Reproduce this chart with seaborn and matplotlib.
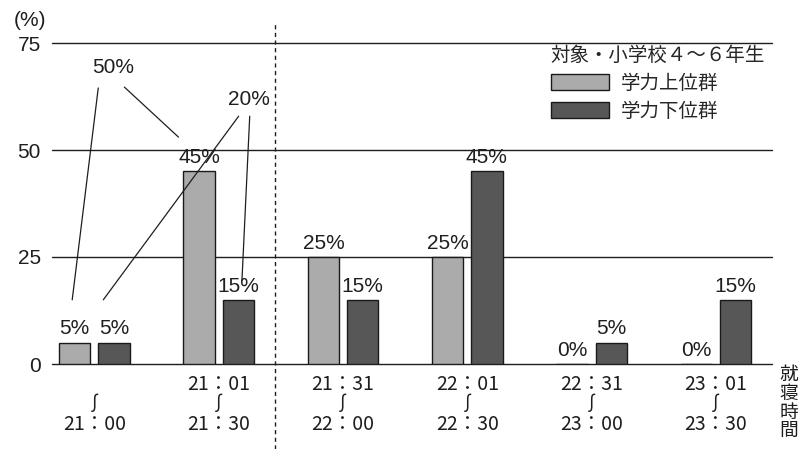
import matplotlib
matplotlib.use("Agg")
import matplotlib.pyplot as plt
import pandas as pd
import seaborn as sns

# bedtime ranges (x categories)
time_labels = [
    "\n∫\n21：00",
    "21：01\n∫\n21：30",
    "21：31\n∫\n22：00",
    "22：01\n∫\n22：30",
    "22：31\n∫\n23：00",
    "23：01\n∫\n23：30",
]
groups = ["学力上位群", "学力下位群"]
upper_pct = [5, 45, 25, 25, 0, 0]
lower_pct = [5, 15, 15, 45, 5, 15]
y_ticks = [0, 25, 50, 75]
legend_title = "対象・小学校４～６年生"
x_title = "就\n寝\n時\n間"
y_unit = "(%)"

sns.set_theme(style="white")
plt.rcParams["font.family"] = ["Noto Sans CJK JP", "DejaVu Sans"]
NUM_FONT = ["Liberation Sans", "DejaVu Sans"]

df = pd.DataFrame({
    "time": time_labels * 2,
    "group": [groups[0]] * len(time_labels) + [groups[1]] * len(time_labels),
    "pct": upper_pct + lower_pct,
})

fig = plt.figure(figsize=(8.08, 4.49), dpi=100)
ax = fig.add_axes([52 / 808, 85 / 449, 720 / 808, 321 / 449])

for v in y_ticks:
    ax.axhline(v, color="#1e1e1e", lw=1.0, zorder=0, clip_on=False)

BAR_WIDTH = 0.63
sns.barplot(
    data=df, x="time", y="pct", hue="group",
    order=time_labels, hue_order=groups,
    palette=["#ababab", "#575757"],
    width=BAR_WIDTH, gap=0.2,
    edgecolor="#1a1a1a", linewidth=1.0,
    ax=ax, zorder=2,
)

ax.set_xlim(-0.34, 5.45)
ax.set_ylim(0, 75)
for s in ax.spines.values():
    s.set_visible(False)
ax.set_xlabel("")
ax.set_ylabel("")
ax.set_yticks(y_ticks)
ax.set_yticklabels([str(v) for v in y_ticks], family=NUM_FONT, fontsize=15)
ax.tick_params(axis="y", length=0, pad=8, colors="#1e1e1e")
ax.tick_params(axis="x", length=0, pad=7, colors="#1e1e1e")
for lab in ax.get_xticklabels():
    lab.set_fontsize(14)
    lab.set_linespacing(0.95)

# value labels above every bar
for cont, vals in zip(ax.containers, [upper_pct, lower_pct]):
    ax.bar_label(cont, labels=[f"{v}%" for v in vals], padding=3,
                 family=NUM_FONT, fontsize=15, color="#1e1e1e")

# group sums with leader lines
hue_off = [-BAR_WIDTH / 4, BAR_WIDTH / 4]
series = [upper_pct, lower_pct]
callouts = [
    # text, text pos, [(category, hue, dx, dy-above-bar, start pos)]
    ("50%", (0.153, 69.2), [(0, 0, -0.02, 10, (0.032, 64.5)),
                             (1, 0, -0.165, 8, (0.242, 64.7))]),
    ("20%", (1.242, 61.7), [(0, 1, -0.085, 10, (1.161, 57.9)),
                             (1, 1, 0.03, 4.5, (1.25, 57.9))]),
]
for text, (tx, ty), links in callouts:
    ax.text(tx, ty, text, ha="center", va="center", family=NUM_FONT,
            fontsize=15, color="#1e1e1e")
    for ci, hi, dx, dy, (sx, sy) in links:
        ex = ci + hue_off[hi] + dx
        ey = series[hi][ci] + dy
        ax.plot([sx, ex], [sy, ey], color="#1e1e1e", lw=0.9, zorder=3)

# dashed divider between the first two ranges and the rest
ax.plot([1.45, 1.45], [-0.265, 1.065], transform=ax.get_xaxis_transform(),
        color="#1e1e1e", lw=1.0, ls=(0, (3, 2.5)), clip_on=False, zorder=1)

leg = ax.legend(title=legend_title, loc="upper left",
                bbox_to_anchor=(0.69, 1.0), frameon=False,
                fontsize=14, title_fontsize=14, handlelength=3.0,
                handleheight=0.85, handletextpad=0.6, labelspacing=0.35,
                borderaxespad=0, borderpad=0.1)
leg._legend_box.align = "left"

fig.text(30 / 808, 1 - 20 / 449, y_unit, ha="center", va="center",
         family=NUM_FONT, fontsize=15, color="#1e1e1e")
fig.text(789 / 808, 1 - 364 / 449, x_title, ha="center", va="top",
         fontsize=13.5, linespacing=0.86, color="#1e1e1e")

fig.savefig("out.png", dpi=100, facecolor="white")
